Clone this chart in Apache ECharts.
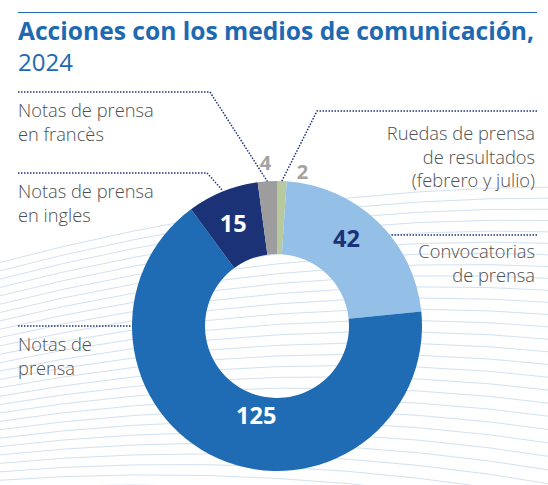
<!DOCTYPE html>
<html>
<head>
<meta charset="utf-8">
<script src="https://cdn.jsdelivr.net/npm/echarts@6/dist/echarts.min.js"></script>
<style>
  html, body { margin: 0; padding: 0; background: #ffffff; }
  #chart { width: 548px; height: 485px; }
</style>
</head>
<body>
<div id="chart"></div>
<script>
// ---- Data ----
const categories = [
  'Ruedas de prensa\nde resultados\n(febrero y julio)',
  'Convocatorias\nde prensa',
  'Notas de\nprensa',
  'Notas de prensa\nen ingles',
  'Notas de prensa\nen francès'
];
const values = [2, 42, 125, 15, 4];
const titleText = 'Acciones con los medios de comunicación,';
const subtitleText = '2024';

// ---- Styles ----
const sliceColors = ['#b7c99d', '#94bfe7', '#1f6cb4', '#1c3277', '#9d9d9d'];
const valueColors = ['#a3a3a3', '#1c3277', '#ffffff', '#ffffff', '#a3a3a3'];
const valueInside = [false, true, true, true, false];
const valueOffsets = [[9.5, 0], [-8, -8], [24.5, -13], [-2, 0], [9.5, -9]];
const FONT = '"Open Sans", "Noto Sans", sans-serif';
const TEXT_GRAY = '#505050';
const LEADER = '#1c3277';
const CX = 277, CY = 326, R0 = 72, R = 145;

// decorative background curves (fan of faint arcs)
const bg = [];
const NB = 28;
for (let i = 0; i < NB; i++) {
  const t = i / (NB - 1);
  const yL = 265 + i * 8.3;
  const yR = 187 + 11 * i + 0.06 * i * i;
  const cpy = yR - 0.2 * t * 280;
  bg.push({
    type: 'bezierCurve', z: 0, silent: true,
    shape: { x1: -10, y1: yL, x2: 560, y2: yR, cpx1: 280, cpy1: cpy },
    style: { stroke: '#d2e1f0', lineWidth: 1, fill: null }
  });
}

function textEl(lines, x, y, align) {
  return {
    type: 'text', z: 10, x: x, y: y,
    style: {
      text: lines, fill: TEXT_GRAY, font: '300 18.3px ' + FONT,
      lineHeight: 23.5, align: align, verticalAlign: 'top'
    }
  };
}

// leader lines computed from the pie layout
function polar(angDeg, r) {
  const a = angDeg * Math.PI / 180;
  return [CX + r * Math.cos(a), CY - r * Math.sin(a)];
}
const total = values.reduce((a, b) => a + b, 0);
const mids = [];
let acc = 90;
values.forEach(function (v) {
  const sweep = v / total * 360;
  mids.push(acc - sweep / 2);
  acc -= sweep;
});
const dashed = { stroke: LEADER, lineWidth: 1.5, lineDash: [1.5, 1.5], fill: null };
const pGrey = polar(mids[4], R);
const pGreen = polar(mids[0], R);
const pNavy = polar(mids[3], R + 2);
const yConv = 235;
const xConv = CX + Math.sqrt(R * R - (CY - yConv) * (CY - yConv));

const graphics = bg.concat([
  { type: 'line', z: 10, shape: { x1: 18, y1: 12.5, x2: 537, y2: 12.5 }, style: { stroke: '#1f6cb4', lineWidth: 1.2 } },
  { type: 'text', z: 10, x: 18, y: 30, style: { text: titleText, fill: '#1e69b1', font: 'bold 24.6px ' + FONT, verticalAlign: 'middle' } },
  { type: 'text', z: 10, x: 18, y: 61, style: { text: subtitleText, fill: '#1e69b1', font: '24px ' + FONT, verticalAlign: 'middle' } },
  { type: 'polyline', z: 10, shape: { points: [[18, 92], [210, 92], pGrey] }, style: dashed },
  { type: 'polyline', z: 10, shape: { points: [[537, 111], [317, 111], pGreen] }, style: dashed },
  { type: 'polyline', z: 10, shape: { points: [[18, 173], [207, 173], pNavy] }, style: dashed },
  { type: 'polyline', z: 10, shape: { points: [[537, yConv], [xConv, yConv]] }, style: dashed },
  { type: 'polyline', z: 10, shape: { points: [[18, CY], [CX - R, CY]] }, style: dashed },
  textEl(categories[4], 18, 98, 'left'),
  textEl(categories[3], 18, 179, 'left'),
  textEl(categories[0], 535, 121, 'right'),
  textEl(categories[1], 535, 239, 'right'),
  textEl(categories[2], 18, 332, 'left')
]);

const chart = echarts.init(document.getElementById('chart'), null, { renderer: 'svg' });
chart.setOption({
  animation: false,
  backgroundColor: '#ffffff',
  graphic: { elements: graphics },
  series: [{
    type: 'pie',
    center: [CX, CY],
    radius: [R0, R],
    startAngle: 90,
    clockwise: true,
    avoidLabelOverlap: false,
    silent: true,
    z: 2,
    label: { show: true, formatter: '{c}', fontFamily: FONT, fontWeight: 'bold' },
    labelLine: { show: false, length: 10, length2: 0, lineStyle: { width: 0, opacity: 0 } },
    labelLayout: function (p) {
      const o = valueOffsets[p.dataIndex];
      return { dx: o[0], dy: o[1] };
    },
    data: categories.map(function (c, i) {
      return {
        name: c, value: values[i],
        itemStyle: { color: sliceColors[i] },
        labelLine: { show: false, lineStyle: { width: 0, opacity: 0 } },
        label: {
          position: valueInside[i] ? 'inside' : 'outside',
          color: valueColors[i],
          fontSize: valueInside[i] ? 23.5 : 20
        }
      };
    })
  }]
});
</script>
</body>
</html>
